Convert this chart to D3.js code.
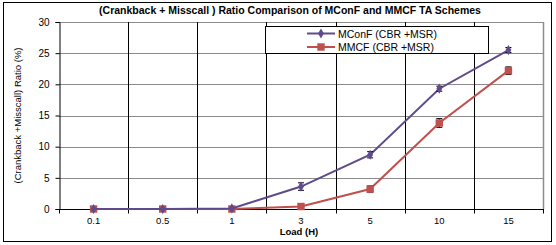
<!DOCTYPE html>
<html>
<head>
<meta charset="utf-8">
<script src="https://cdn.jsdelivr.net/npm/d3@7"></script>
<style>
  body { margin: 0; background: #fff; }
  svg { display: block; font-family: "Liberation Sans", Arial, sans-serif; }
</style>
</head>
<body>
<svg id="chart" width="556" height="245"></svg>
<script>
// loads on the x axis (categorical)
const loads = ['0.1', '0.5', '1', '3', '5', '10', '15']
// ratio values
const mconf = [0, 0, 0.1, 3.6, 8.7, 19.3, 25.5]
const mmcf = [0, 0, 0, 0.4, 3.2, 13.8, 22.2]
// error bar half-heights
const mconfErr = [0, 0, 0, 0.6, 0.5, 0.4, 0.4]
const mmcfErr = [0, 0, 0, 0.2, 0.5, 0.7, 0.6]
const yTicks = [0, 5, 10, 15, 20, 25, 30]

const svg = d3.select('#chart')
const pLeft = 59, pRight = 543, pTop = 22, pBottom = 209

// outer frame
svg.append('rect').attr('x', 3.5).attr('y', 2.5).attr('width', 548).attr('height', 239)
    .attr('fill', 'none').attr('stroke', '#000').attr('stroke-width', 1)

const x = d3.scaleBand().domain(loads).range([pLeft, pRight])
const y = d3.scaleLinear().domain([0, 30]).range([pBottom, pTop])

// horizontal grid
svg.append('g').selectAll('line').data(yTicks.slice(1)).enter().append('line')
    .attr('x1', pLeft).attr('x2', pRight)
    .attr('y1', d => Math.round(y(d)) + 0.5).attr('y2', d => Math.round(y(d)) + 0.5)
    .attr('stroke', '#8c8c8c').attr('stroke-width', 1.2)

// vertical grid at category boundaries
const bounds = loads.slice(1).map(d => x(d))
svg.append('g').selectAll('line').data(bounds).enter().append('line')
    .attr('x1', d => Math.round(d) + 0.5).attr('x2', d => Math.round(d) + 0.5)
    .attr('y1', pTop).attr('y2', pBottom)
    .attr('stroke', '#000').attr('stroke-width', 1)

// plot right edge
svg.append('line').attr('x1', pRight + 0.5).attr('x2', pRight + 0.5).attr('y1', pTop).attr('y2', pBottom)
    .attr('stroke', '#8c8c8c').attr('stroke-width', 1.5)

// y axis
const yAxis = svg.append('g').attr('transform', `translate(${pLeft + 0.5},0)`)
    .call(d3.axisLeft(y).tickValues(yTicks).tickSize(4).tickPadding(6))
yAxis.select('.domain').attr('stroke', '#000')
yAxis.selectAll('text').attr('font-size', 10).attr('fill', '#000')

// x axis: ticks at category boundaries
const xg = svg.append('g').attr('transform', `translate(0,${Math.round(pBottom) + 0.5})`)
xg.append('line').attr('x1', pLeft).attr('x2', pRight + 1).attr('stroke', '#000')
xg.selectAll('.tk').data(loads.map(d => x(d)).concat([pRight])).enter().append('line')
    .attr('x1', d => Math.round(d) + 0.5).attr('x2', d => Math.round(d) + 0.5)
    .attr('y1', 0).attr('y2', 4).attr('stroke', '#000')
xg.selectAll('text').data(loads).enter().append('text')
    .attr('x', d => x(d) + x.bandwidth() / 2).attr('y', 14)
    .attr('text-anchor', 'middle').attr('font-size', 9.5).text(d => d)

// title + axis labels
svg.append('text').attr('x', 290).attr('y', 14).attr('text-anchor', 'middle')
    .attr('font-size', 10.5).attr('font-weight', 'bold')
    .text('(Crankback + Misscall ) Ratio Comparison of MConF and MMCF TA Schemes')
svg.append('text').attr('x', 299).attr('y', 234.5).attr('text-anchor', 'middle')
    .attr('font-size', 9.5).attr('font-weight', 'bold').text('Load (H)')
svg.append('text').attr('transform', `translate(21,${(pTop + pBottom) / 2}) rotate(-90)`)
    .attr('text-anchor', 'middle').attr('font-size', 9.5)
    .attr('textLength', 136).attr('lengthAdjust', 'spacingAndGlyphs')
    .text('(Crankback +Misscall)  Ratio (%)')

const cx = d => x(d) + x.bandwidth() / 2
const line = d3.line().x(d => cx(d.k)).y(d => y(d.v))

const series = [
    { name: 'MConF (CBR +MSR)', vals: mconf, err: mconfErr, color: '#5f4b8b', shape: d3.symbolDiamond, size: 30 },
    { name: 'MMCF (CBR +MSR)', vals: mmcf, err: mmcfErr, color: '#c0504d', shape: d3.symbolSquare, size: 55 }
]

series.slice().reverse().forEach(s => {
    const pts = loads.map((k, i) => ({ k, v: s.vals[i], e: s.err[i] }))
    const g = svg.append('g')
    g.append('path').datum(pts).attr('d', line).attr('fill', 'none')
        .attr('stroke', s.color).attr('stroke-width', 2)
    // error bars
    const eb = g.selectAll('.eb').data(pts.filter(p => p.e > 0)).enter().append('g')
    eb.append('line').attr('x1', p => cx(p.k)).attr('x2', p => cx(p.k))
        .attr('y1', p => y(p.v - p.e)).attr('y2', p => y(p.v + p.e)).attr('stroke', '#000')
    ;[-1, 1].forEach(sg => {
        eb.append('line').attr('x1', p => cx(p.k) - 3).attr('x2', p => cx(p.k) + 3)
            .attr('y1', p => y(p.v + sg * p.e)).attr('y2', p => y(p.v + sg * p.e)).attr('stroke', '#000')
    })
    g.selectAll('.pt').data(pts).enter().append('path')
        .attr('d', d3.symbol().type(s.shape).size(s.size))
        .attr('transform', p => `translate(${cx(p.k)},${y(p.v)})`)
        .attr('fill', s.color)
})

// legend
const lg = svg.append('g')
lg.append('rect').attr('x', 265.5).attr('y', 26.5).attr('width', 223).attr('height', 27)
    .attr('fill', '#fff').attr('stroke', '#000')
series.forEach((s, i) => {
    const ly = 33.5 + i * 13.5
    lg.append('line').attr('x1', 307).attr('x2', 335).attr('y1', ly).attr('y2', ly)
        .attr('stroke', s.color).attr('stroke-width', 2)
    lg.append('path').attr('d', d3.symbol().type(s.shape).size(s.size))
        .attr('transform', `translate(321,${ly})`).attr('fill', s.color)
    lg.append('text').attr('x', 338).attr('y', ly + 4).attr('font-size', 10.5).text(s.name)
})
</script>
</body>
</html>
